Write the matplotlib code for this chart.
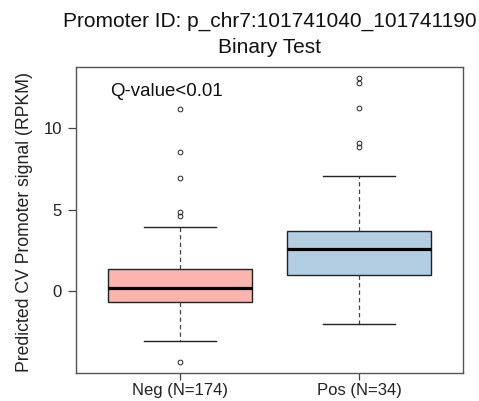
import matplotlib
matplotlib.use("Agg")
import matplotlib.pyplot as plt

plt.rcParams['font.family'] = ['Liberation Sans', 'DejaVu Sans']

categories = ["Neg (N=174)", "Pos (N=34)"]
q1 = [-0.67, 1.00]
med = [0.22, 2.59]
q3 = [1.34, 3.70]
whislo = [-3.04, -2.02]
whishi = [3.91, 7.03]
fliers = [[11.12, 8.51, 6.94, 4.87, 4.62, -4.30],
          [13.02, 12.75, 11.22, 9.05, 8.80]]
colors = ["#FBB4AE", "#B3CDE3"]
title1 = "Promoter ID: p_chr7:101741040_101741190"
title2 = "Binary Test"
ylabel = "Predicted CV Promoter signal (RPKM)"
annot = "Q-value<0.01"
yticks = [0, 5, 10]

stats = []
for i in range(len(categories)):
    stats.append(dict(label=categories[i], q1=q1[i], med=med[i], q3=q3[i],
                      whislo=whislo[i], whishi=whishi[i], fliers=fliers[i]))

fig = plt.figure(figsize=(4.79, 4.01), dpi=100)
ax = fig.add_axes([76/479, 1-373/401, (463-76)/479, (373-67)/401])

bp = ax.bxp(stats, positions=[1, 2], widths=0.8, patch_artist=True,
            boxprops=dict(edgecolor='#222222', linewidth=1.0),
            medianprops=dict(color='black', linewidth=2.3),
            whiskerprops=dict(color='#444444', linewidth=0.9, linestyle=(0, (3.5, 2.5))),
            capprops=dict(color='#222222', linewidth=1.0),
            flierprops=dict(marker='o', markersize=3.4, markerfacecolor='none',
                            markeredgecolor='#222222', markeredgewidth=0.7))
for c, b in zip(colors, bp['boxes']):
    b.set_facecolor(c)
for cap in bp['caps']:
    x = cap.get_xdata()
    m = (x[0] + x[1]) / 2
    cap.set_xdata([m - 0.2, m + 0.2])

ax.set_xlim(0.42, 2.58)
ax.set_ylim(-4.99, 13.71)
ax.set_yticks(yticks)
ax.set_yticklabels([str(t) for t in yticks], fontsize=12, color='#222222')
ax.set_xticks([1, 2])
ax.set_xticklabels(categories, fontsize=12, color='#222222')
ax.tick_params(axis='y', direction='out', length=5.8, width=0.9, color='#444444', pad=4.3)
ax.tick_params(axis='x', direction='out', length=5, width=0.9, color='#444444', pad=2)
for s in ax.spines.values():
    s.set_color('#555555')
    s.set_linewidth(1.0)

fig.text(25/479, 1-222.5/401, ylabel, rotation=90, ha='center', va='center',
         fontsize=12.7, color='#222222')
ax.text(0.61, 11.94, annot, fontsize=13.4, color='#111111', ha='left', va='baseline')
fig.text(269.5/479, 1-26.7/401, title1, ha='center', va='baseline', fontsize=15,
         color='#111111')
fig.text(269.5/479, 1-52.7/401, title2, ha='center', va='baseline', fontsize=15,
         color='#111111')

fig.savefig("out.png", dpi=100)
